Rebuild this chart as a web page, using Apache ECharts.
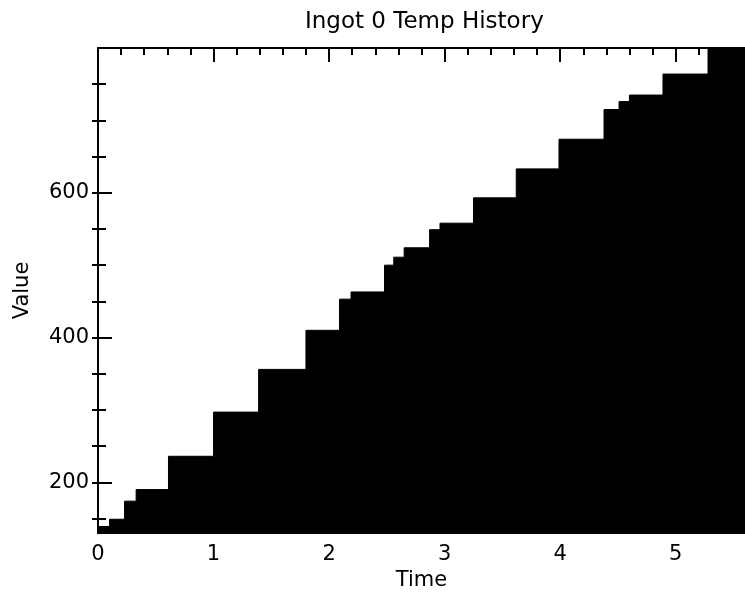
<!DOCTYPE html>
<html>
<head>
<meta charset="utf-8">
<title>Ingot 0 Temp History</title>
<script src="https://cdn.jsdelivr.net/npm/echarts@6/dist/echarts.min.js"></script>
<style>
  html, body { margin: 0; padding: 0; background: #fff; }
  #main { width: 745px; height: 596px; }
</style>
</head>
<body>
<div id="main"></div>
<script>
// step start times and the value held until the next one
const stepTimes = [0, 0.1, 0.23, 0.33, 0.61, 1.0, 1.39, 1.8, 2.09, 2.19, 2.48, 2.56, 2.65, 2.87, 2.96, 3.25, 3.62, 3.99, 4.38, 4.51, 4.6, 4.89, 5.28, 5.6];
const stepValues = [139, 149, 174, 190, 236, 297, 356, 410, 453, 463, 500, 511, 524, 549, 558, 593, 633, 674, 715, 726, 735, 764, 800, 800];

const xMajor = [0, 1, 2, 3, 4, 5];
const xMinor = [0.2, 0.4, 0.6, 0.8, 1.2, 1.4, 1.6, 1.8, 2.2, 2.4, 2.6, 2.8, 3.2, 3.4, 3.6, 3.8, 4.2, 4.4, 4.6, 4.8, 5.2, 5.4];
const yMajor = [200, 400, 600];
const yMinor = [150, 250, 300, 350, 450, 500, 550, 650, 700, 750];

window.onload = function () {
  const dom = document.getElementById('main');
  const myChart = echarts.init(dom);
  const font = 'DejaVu Sans';
  const black = '#000';
  const xMin = 0, xMax = 5.6, yMin = 130, yMax = 800;

  const option = {
    backgroundColor: '#fff',
    animation: false,
    textStyle: { fontFamily: font, color: black },
    title: {
      text: 'Ingot 0 Temp History',
      left: 300,
      top: 6,
      textStyle: { fontFamily: font, fontSize: 23, fontWeight: 'normal', color: black }
    },
    grid: { left: 98, right: 0, top: 48, bottom: 58 },
    xAxis: [
      {
        type: 'value', position: 'bottom', min: xMin, max: xMax,
        name: 'Time', nameLocation: 'middle', nameGap: 37,
        nameTextStyle: { fontFamily: font, fontSize: 21, color: black },
        axisLine: { lineStyle: { color: black, width: 2 } },
        axisTick: { show: false },
        axisLabel: { customValues: xMajor, margin: 11, fontFamily: font, fontSize: 21, color: black },
        splitLine: { show: false }
      },
      {
        type: 'value', position: 'top', min: xMin, max: xMax,
        axisLine: { lineStyle: { color: black, width: 2 } },
        axisTick: { inside: true, length: 14, customValues: xMajor, lineStyle: { color: black, width: 2 } },
        axisLabel: { show: false },
        splitLine: { show: false }
      },
      {
        type: 'value', position: 'top', min: xMin, max: xMax,
        axisLine: { show: false },
        axisTick: { inside: true, length: 7, customValues: xMinor, lineStyle: { color: black, width: 2 } },
        axisLabel: { show: false },
        splitLine: { show: false }
      }
    ],
    yAxis: [
      {
        type: 'value', position: 'left', min: yMin, max: yMax,
        name: 'Value', nameLocation: 'middle', nameGap: 65,
        nameTextStyle: { fontFamily: font, fontSize: 21, color: black },
        axisLine: { show: true, lineStyle: { color: black, width: 2 } },
        axisTick: { inside: true, length: 14, customValues: yMajor, lineStyle: { color: black, width: 2 } },
        axisLabel: { customValues: yMajor, margin: 9, fontFamily: font, fontSize: 21, color: black },
        splitLine: { show: false }
      },
      {
        type: 'value', position: 'left', min: yMin, max: yMax,
        axisLine: { show: false },
        axisTick: { inside: true, length: 8, customValues: yMinor, lineStyle: { color: black, width: 2 } },
        axisLabel: { show: false },
        splitLine: { show: false }
      },
      {
        type: 'value', position: 'left', min: yMin, max: yMax,
        axisLine: { show: false },
        axisTick: { inside: false, length: 6, customValues: yMajor.concat(yMinor), lineStyle: { color: black, width: 2 } },
        axisLabel: { show: false },
        splitLine: { show: false }
      }
    ],
    series: [
      {
        name: 'Temp',
        type: 'line',
        xAxisIndex: 0,
        yAxisIndex: 0,
        step: 'end',
        symbol: 'none',
        data: stepTimes.map((t, i) => [t, stepValues[i]]),
        lineStyle: { color: black, width: 1 },
        areaStyle: { color: black, opacity: 1, origin: 'start' },
        z: 3
      }
    ]
  };

  myChart.setOption(option, true);
};
</script>
</body>
</html>
